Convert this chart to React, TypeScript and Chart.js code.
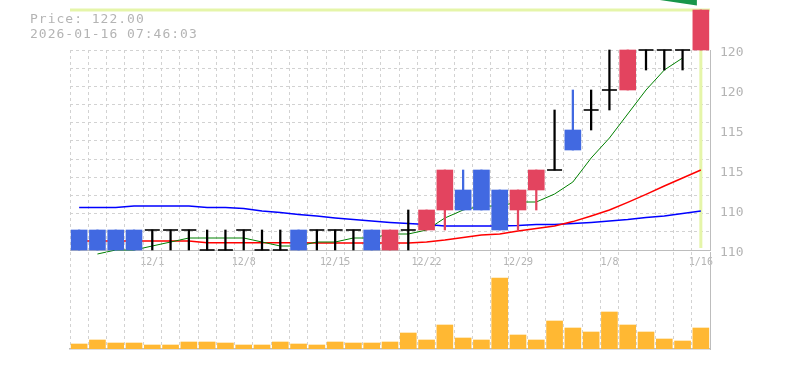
import React, { useEffect, useRef } from 'react';
import { Chart, registerables } from 'chart.js';

Chart.register(...registerables);

const dates = [
  '11/25', '11/26', '11/27', '11/28',
  '12/1', '12/2', '12/3', '12/4', '12/5',
  '12/8', '12/9', '12/10', '12/11', '12/12',
  '12/15', '12/16', '12/17', '12/18', '12/19',
  '12/22', '12/23', '12/24', '12/25', '12/26',
  '12/29', '12/30',
  '1/5', '1/6', '1/7', '1/8', '1/9',
  '1/13', '1/14', '1/15', '1/16',
];

const opens = [111, 111, 111, 111, 111, 111, 111, 110, 110, 111, 110, 110, 111, 111, 111, 111, 111, 110, 111, 111, 112, 113, 114, 113, 112, 113, 114, 116, 117, 118, 118, 120, 120, 120, 120];
const highs = [111, 111, 111, 111, 111, 111, 111, 111, 111, 111, 111, 111, 111, 111, 111, 111, 111, 111, 112, 112, 114, 114, 114, 113, 113, 114, 117, 118, 118, 120, 120, 120, 120, 120, 122];
const lows = [110, 110, 110, 110, 110, 110, 110, 110, 110, 110, 110, 110, 110, 110, 110, 110, 110, 110, 110, 111, 111, 112, 112, 111, 111, 112, 114, 115, 116, 117, 118, 119, 119, 119, 120];
const closes = [110, 110, 110, 110, 111, 111, 111, 110, 110, 111, 110, 110, 110, 111, 111, 111, 110, 111, 111, 112, 114, 112, 112, 111, 113, 114, 114, 115, 117, 118, 120, 120, 120, 120, 122];

const ma5 = [null, 109.8, 110.0, 110.0, 110.2, 110.4, 110.6, 110.6, 110.6, 110.6, 110.4, 110.2, 110.2, 110.4, 110.4, 110.6, 110.6, 110.8, 110.8, 111.0, 111.6, 112.0, 112.2, 112.2, 112.4, 112.4, 112.8, 113.4, 114.6, 115.6, 116.8, 118.0, 119.0, 119.6, null];
const ma25 = [110.45, 110.45, 110.45, 110.45, 110.45, 110.45, 110.45, 110.36, 110.36, 110.36, 110.36, 110.36, 110.36, 110.35, 110.35, 110.35, 110.35, 110.35, 110.35, 110.4, 110.5, 110.63, 110.75, 110.8, 110.95, 111.08, 111.2, 111.42, 111.7, 112.0, 112.38, 112.78, 113.2, 113.6, 114.0];
const ma75 = [112.13, 112.13, 112.13, 112.2, 112.2, 112.2, 112.2, 112.13, 112.13, 112.08, 111.95, 111.87, 111.78, 111.7, 111.6, 111.52, 111.45, 111.38, 111.32, 111.28, 111.2, 111.2, 111.2, 111.2, 111.22, 111.27, 111.28, 111.32, 111.38, 111.45, 111.52, 111.62, 111.7, 111.82, 111.95];

const volumes = [50, 90, 60, 60, 40, 40, 70, 70, 60, 40, 40, 70, 50, 40, 70, 60, 60, 70, 160, 90, 240, 110, 90, 710, 140, 90, 280, 210, 170, 370, 240, 170, 100, 80, 210];

const priceTickLabels = ['110', '110', '115', '115', '120', '120'];
const currentPrice = 122;
const titleLines = ['Price: 122.00', '2026-01-16 07:46:03'];

const UP = '#e3445f';
const DOWN = '#4169e1';
const DOJI = '#000000';
const GRID = '#d2d2d2';
const AXIS = '#bdbdbd';
const TEXT = '#b4b4b4';
const FONT = '"DejaVu Sans Mono", monospace';

const candleColor = (i: number) =>
  closes[i] > opens[i] ? UP : closes[i] < opens[i] ? DOWN : DOJI;

export default function App() {
  const mainRef = useRef<HTMLCanvasElement>(null);
  const volRef = useRef<HTMLCanvasElement>(null);

  useEffect(() => {
    const last = dates.length - 1;
    const crosshair = {
      id: 'crosshair',
      beforeDatasetsDraw(chart: any) {
        const { ctx, chartArea, scales } = chart;
        const y = scales.y.getPixelForValue(currentPrice);
        const x = scales.x.getPixelForValue(last);
        ctx.save();
        ctx.strokeStyle = '#e5f5a9';
        ctx.lineWidth = 3;
        ctx.beginPath();
        ctx.moveTo(chartArea.left, y);
        ctx.lineTo(chartArea.right, y);
        ctx.moveTo(x, y);
        ctx.lineTo(x, chartArea.bottom - 2);
        ctx.stroke();
        ctx.restore();
      },
      afterDatasetsDraw(chart: any) {
        const { ctx, scales } = chart;
        const x = scales.x.getPixelForValue(last);
        ctx.save();
        ctx.fillStyle = '#18964a';
        ctx.beginPath();
        ctx.moveTo(x - 41, 0);
        ctx.lineTo(x - 4, 0);
        ctx.lineTo(x - 4, 5.5);
        ctx.closePath();
        ctx.fill();
        ctx.restore();
      },
    };

    const bodyData = opens.map((o, i) => (o === closes[i] ? null : [o, closes[i]]));
    const crossData = opens.map((o, i) => (o === closes[i] ? o : null));
    const wickData = lows.map((l, i) => (highs[i] > l ? [l, highs[i]] : null));
    const colors = dates.map((_, i) => candleColor(i));

    const main = new Chart(mainRef.current!, {
      type: 'bar',
      data: {
        labels: dates,
        datasets: [
          {
            type: 'bar',
            data: bodyData as any,
            backgroundColor: colors,
            barThickness: 16,
            grouped: false,
            clip: false as any,
            yAxisID: 'y',
          },
          {
            type: 'line',
            data: crossData as any,
            showLine: false,
            pointStyle: 'line',
            pointRadius: 7.5,
            pointBorderWidth: 1.6,
            pointBorderColor: DOJI,
            pointBackgroundColor: DOJI,
            clip: false as any,
            yAxisID: 'y',
          },
          {
            type: 'bar',
            data: wickData as any,
            backgroundColor: colors,
            barThickness: 1.6,
            grouped: false,
            clip: false as any,
            yAxisID: 'y',
          },
          {
            type: 'line',
            data: ma5 as any,
            borderColor: '#008000',
            borderWidth: 1,
            pointRadius: 0,
            tension: 0,
            clip: false as any,
            yAxisID: 'y',
          },
          {
            type: 'line',
            data: ma25 as any,
            borderColor: '#ff0000',
            borderWidth: 1.5,
            pointRadius: 0,
            tension: 0,
            clip: false as any,
            yAxisID: 'y',
          },
          {
            type: 'line',
            data: ma75 as any,
            borderColor: '#0000ff',
            borderWidth: 1.5,
            pointRadius: 0,
            tension: 0,
            clip: false as any,
            yAxisID: 'y',
          },
        ],
      },
      options: {
        responsive: false,
        animation: false,
        events: [],
        layout: { padding: { left: 70, top: 50, right: 0, bottom: 0 } },
        plugins: { legend: { display: false }, tooltip: { enabled: false } },
        scales: {
          x: {
            offset: true,
            grid: { color: GRID, offset: true, drawTicks: false, lineWidth: 1 },
            border: { color: AXIS, dash: [3, 3], width: 1 },
            ticks: {
              autoSkip: false,
              maxRotation: 0,
              padding: 6,
              color: TEXT,
              font: { family: FONT, size: 10 },
              callback: (_v: any, i: number) => (i % 5 === 4 ? dates[i] : ''),
            },
            afterFit: (s: any) => { s.height = 20; },
          },
          yg: {
            type: 'linear',
            position: 'left',
            min: 0,
            max: 11,
            ticks: { stepSize: 1, display: false },
            grid: { color: GRID, drawTicks: false },
            border: { display: false, dash: [3, 3] },
            afterFit: (s: any) => { s.width = 0; },
          },
          y: {
            type: 'linear',
            position: 'right',
            min: 110,
            max: 120,
            ticks: {
              stepSize: 2,
              padding: 10,
              labelOffset: 3,
              color: TEXT,
              font: { family: FONT, size: 13 },
              callback: (_v: any, i: number) => priceTickLabels[i] ?? '',
            },
            grid: { display: false, drawTicks: false },
            border: { color: AXIS, width: 1 },
            afterFit: (s: any) => { s.width = 75; },
          },
        },
      } as any,
      plugins: [crosshair],
    });

    const vol = new Chart(volRef.current!, {
      type: 'bar',
      data: {
        labels: dates,
        datasets: [
          {
            data: volumes,
            backgroundColor: '#ffb833',
            barThickness: 16,
          },
        ],
      },
      options: {
        responsive: false,
        animation: false,
        events: [],
        layout: { padding: { left: 70, top: 2, right: 0, bottom: 0 } },
        plugins: { legend: { display: false }, tooltip: { enabled: false } },
        scales: {
          x: {
            offset: true,
            grid: { color: GRID, offset: true, drawTicks: false },
            border: { color: AXIS, dash: [3, 3], width: 1.5 },
            ticks: { display: false },
            afterFit: (s: any) => { s.height = 21; },
          },
          y: {
            position: 'right',
            min: 0,
            max: 970,
            ticks: { display: false },
            grid: { display: false, drawTicks: false },
            border: { color: AXIS, width: 1 },
            afterFit: (s: any) => { s.width = 75; },
          },
        },
      } as any,
    });

    return () => {
      main.destroy();
      vol.destroy();
    };
  }, []);

  return (
    <div style={{ position: 'absolute', left: 0, top: 0, width: 785, height: 370, background: '#ffffff' }}>
      <canvas ref={mainRef} width={785} height={270} style={{ position: 'absolute', left: 0, top: 0, width: 785, height: 270 }} />
      <canvas ref={volRef} width={785} height={120} style={{ position: 'absolute', left: 0, top: 250, width: 785, height: 120 }} />
      <div
        style={{
          position: 'absolute',
          left: 30,
          top: 11,
          font: `13px ${FONT}`,
          letterSpacing: '1px',
          lineHeight: '15px',
          color: TEXT,
          whiteSpace: 'pre',
        }}
      >
        {titleLines.map((l) => (
          <div key={l}>{l}</div>
        ))}
      </div>
    </div>
  );
}
